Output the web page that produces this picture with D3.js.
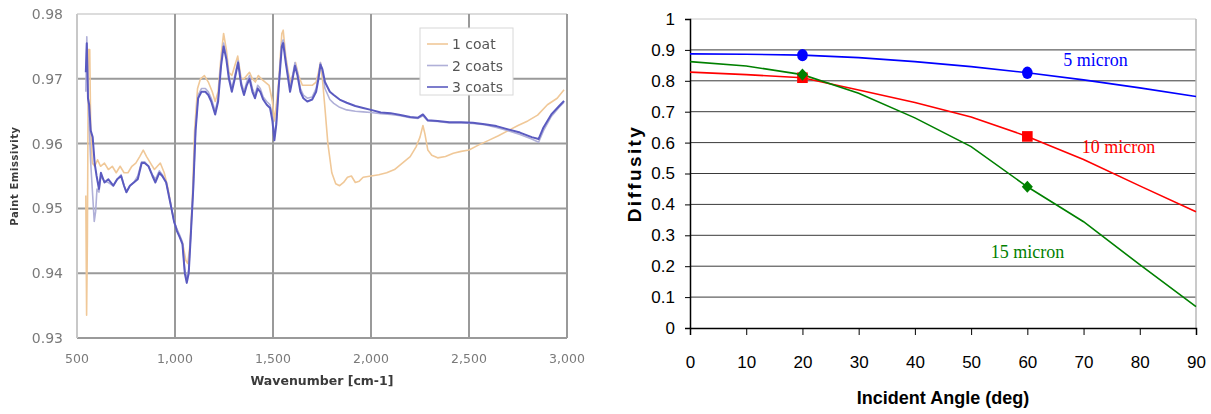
<!DOCTYPE html>
<html>
<head>
<meta charset="utf-8">
<script src="https://cdn.jsdelivr.net/npm/d3@7"></script>
<style>
  body { margin: 0; background: #fff; }
  svg { display: block; }
</style>
</head>
<body>
<svg id="chart"></svg>
<script>
// ---- left panel: paint emissivity spectra [wavenumber, emissivity]
const coat1 = [[545,0.952],[549,0.9335],[553,0.945],[558,0.9745],[565,0.9745],[570,0.962],[578,0.957],[590,0.9565],[605,0.9575],[620,0.9565],[640,0.957],[660,0.956],[680,0.9565],[700,0.9555],[720,0.9565],[740,0.9555],[760,0.9555],[780,0.9565],[800,0.957],[820,0.958],[838,0.959],[855,0.958],[875,0.957],[895,0.956],[910,0.9565],[925,0.957],[945,0.9555],[965,0.953],[985,0.9495],[1000,0.9475],[1020,0.946],[1040,0.9445],[1055,0.942],[1065,0.9415],[1075,0.944],[1088,0.951],[1100,0.962],[1115,0.9685],[1130,0.970],[1150,0.9705],[1170,0.9695],[1190,0.968],[1205,0.9665],[1220,0.968],[1235,0.9735],[1248,0.977],[1262,0.9745],[1275,0.971],[1290,0.9705],[1305,0.972],[1320,0.9735],[1338,0.970],[1352,0.970],[1366,0.9705],[1380,0.971],[1395,0.970],[1410,0.9695],[1425,0.9705],[1440,0.970],[1460,0.9695],[1480,0.969],[1497,0.9665],[1507,0.9635],[1517,0.966],[1530,0.970],[1545,0.977],[1552,0.9775],[1565,0.9735],[1578,0.971],[1590,0.9695],[1605,0.971],[1615,0.9725],[1630,0.9705],[1650,0.969],[1670,0.969],[1700,0.969],[1720,0.9695],[1732,0.971],[1742,0.9725],[1752,0.970],[1765,0.9655],[1780,0.960],[1800,0.9555],[1820,0.9538],[1840,0.9535],[1860,0.954],[1880,0.9548],[1900,0.955],[1920,0.954],[1940,0.9542],[1960,0.9548],[2000,0.955],[2040,0.9552],[2080,0.9555],[2120,0.956],[2160,0.957],[2200,0.958],[2230,0.9595],[2250,0.961],[2265,0.9628],[2275,0.9615],[2290,0.959],[2310,0.9582],[2340,0.9578],[2380,0.958],[2420,0.9585],[2460,0.9588],[2500,0.959],[2550,0.9598],[2600,0.9605],[2650,0.9612],[2700,0.962],[2750,0.9628],[2800,0.9635],[2850,0.9644],[2900,0.966],[2950,0.967],[2985,0.9683]];

const coat2 = [[545,0.968],[550,0.9765],[556,0.968],[562,0.963],[570,0.957],[580,0.952],[588,0.948],[595,0.9495],[602,0.953],[612,0.9525],[622,0.955],[640,0.9542],[660,0.954],[685,0.9535],[705,0.9545],[725,0.9552],[740,0.9535],[752,0.9525],[770,0.9535],[790,0.954],[810,0.955],[830,0.9572],[845,0.9572],[865,0.9565],[885,0.9552],[900,0.9545],[920,0.9558],[935,0.9552],[955,0.954],[975,0.9512],[995,0.948],[1010,0.9468],[1025,0.9458],[1038,0.9448],[1050,0.9405],[1060,0.9392],[1070,0.9405],[1080,0.9458],[1093,0.953],[1105,0.9625],[1118,0.9675],[1135,0.9685],[1155,0.9685],[1170,0.968],[1185,0.967],[1205,0.965],[1220,0.967],[1235,0.9725],[1248,0.9755],[1262,0.9735],[1275,0.9705],[1290,0.9685],[1305,0.9705],[1322,0.9728],[1338,0.9695],[1352,0.968],[1366,0.9695],[1380,0.9705],[1395,0.9685],[1408,0.9675],[1422,0.969],[1435,0.9685],[1450,0.9672],[1468,0.9665],[1485,0.966],[1497,0.964],[1507,0.961],[1517,0.9635],[1530,0.9695],[1545,0.9755],[1552,0.976],[1565,0.973],[1575,0.971],[1587,0.9685],[1600,0.9705],[1612,0.9725],[1625,0.971],[1640,0.9685],[1655,0.9675],[1675,0.967],[1700,0.9672],[1720,0.9685],[1732,0.9705],[1742,0.9725],[1752,0.9712],[1765,0.9685],[1790,0.9668],[1810,0.9662],[1840,0.9656],[1876,0.9652],[1920,0.965],[1960,0.9649],[2000,0.9648],[2050,0.9646],[2100,0.9645],[2150,0.9643],[2200,0.964],[2240,0.9639],[2265,0.9643],[2290,0.9635],[2340,0.9634],[2400,0.9632],[2460,0.9632],[2520,0.9631],[2580,0.9629],[2640,0.9625],[2700,0.962],[2760,0.9614],[2820,0.9607],[2855,0.9602],[2880,0.962],[2920,0.9642],[2960,0.9656],[2985,0.9664]];

const coat3 = [[545,0.971],[550,0.9755],[556,0.967],[562,0.966],[570,0.962],[580,0.961],[590,0.957],[600,0.955],[612,0.953],[622,0.9555],[640,0.954],[660,0.9545],[685,0.9535],[705,0.9545],[725,0.955],[740,0.9535],[752,0.9525],[770,0.9535],[790,0.954],[810,0.9545],[830,0.957],[845,0.957],[865,0.9565],[885,0.955],[900,0.954],[920,0.9555],[935,0.955],[955,0.954],[975,0.951],[995,0.948],[1010,0.9465],[1025,0.9455],[1038,0.9445],[1050,0.940],[1060,0.9385],[1070,0.940],[1080,0.9455],[1093,0.953],[1105,0.962],[1118,0.967],[1135,0.968],[1155,0.968],[1170,0.9675],[1185,0.9665],[1205,0.9645],[1220,0.9665],[1235,0.972],[1248,0.975],[1262,0.973],[1275,0.970],[1290,0.968],[1305,0.970],[1322,0.9725],[1338,0.969],[1352,0.9675],[1366,0.969],[1380,0.970],[1395,0.968],[1408,0.967],[1422,0.9685],[1435,0.968],[1450,0.9668],[1468,0.966],[1485,0.9655],[1497,0.9635],[1507,0.9605],[1517,0.963],[1530,0.969],[1545,0.975],[1552,0.9755],[1565,0.9725],[1575,0.9705],[1587,0.968],[1600,0.970],[1612,0.972],[1625,0.9705],[1640,0.968],[1655,0.967],[1675,0.9665],[1700,0.9668],[1720,0.968],[1732,0.970],[1742,0.9722],[1752,0.9715],[1765,0.9695],[1790,0.968],[1810,0.9675],[1840,0.9668],[1876,0.9663],[1920,0.9658],[1960,0.9655],[2000,0.9652],[2050,0.9648],[2100,0.9647],[2150,0.9644],[2200,0.9641],[2240,0.964],[2265,0.9645],[2290,0.9636],[2340,0.9635],[2400,0.9633],[2460,0.9633],[2520,0.9632],[2580,0.963],[2640,0.9627],[2700,0.9622],[2760,0.9617],[2820,0.961],[2855,0.9607],[2880,0.9625],[2920,0.9645],[2960,0.9658],[2985,0.9666]];

const leftSeries = ["1 coat", "2 coats", "3 coats"];
const leftXTicks = [500, 1000, 1500, 2000, 2500, 3000];
const leftYTicks = [0.93, 0.94, 0.95, 0.96, 0.97, 0.98];

// ---- right panel: diffusity vs incident angle
const angles = [0, 10, 20, 30, 40, 50, 60, 70, 80, 90];
const micron5 = [0.887, 0.886, 0.883, 0.875, 0.862, 0.846, 0.826, 0.803, 0.777, 0.749];
const micron10 = [0.828, 0.820, 0.810, 0.770, 0.730, 0.683, 0.620, 0.545, 0.460, 0.376];
const micron15 = [0.862, 0.848, 0.820, 0.760, 0.680, 0.587, 0.457, 0.344, 0.205, 0.069];
const markerAngles = [20, 60];
const rightSeries = ["5 micron", "10 micron", "15 micron"];
const rightXTicks = [0, 10, 20, 30, 40, 50, 60, 70, 80, 90];
const rightYTicks = [0, 0.1, 0.2, 0.3, 0.4, 0.5, 0.6, 0.7, 0.8, 0.9, 1];
// label anchor in data units: [angle, diffusity]
const labelPos = [[66.4, 0.848], [69.7, 0.566], [53.5, 0.228]];

const svg = d3.select("#chart").attr("width", 1211).attr("height", 414);

// blur to mimic the soft scanned look of the left figure
svg.append("defs").append("filter").attr("id", "soft")
    .append("feGaussianBlur").attr("stdDeviation", 0.7);

// ================= left chart =================
const L = svg.append("g").attr("filter", "url(#soft)");
const lx = d3.scaleLinear().domain([500, 3000]).range([77, 567]);
const ly = d3.scaleLinear().domain([0.93, 0.98]).range([338, 14]);

L.append("g").selectAll("line").data(leftYTicks).join("line")
    .attr("x1", lx(500)).attr("x2", lx(3000))
    .attr("y1", d => ly(d)).attr("y2", d => ly(d))
    .attr("stroke", d => d === 0.98 ? "#d0d0d0" : "#9a9a9a")
    .attr("stroke-width", d => d === 0.98 ? 1.5 : 2);

L.append("g").selectAll("line").data(leftXTicks).join("line")
    .attr("x1", d => lx(d)).attr("x2", d => lx(d))
    .attr("y1", ly(0.93)).attr("y2", ly(0.98))
    .attr("stroke", d => (d === 500) ? "#c8c8c8" : "#9a9a9a")
    .attr("stroke-width", 2);

L.append("g").selectAll("text").data(leftYTicks).join("text")
    .attr("x", 63).attr("y", d => ly(d) + 5)
    .attr("text-anchor", "end")
    .attr("font-family", "DejaVu Sans").attr("font-size", 14)
    .attr("fill", "#7a7a7a")
    .text(d => d.toFixed(2));

L.append("g").selectAll("text").data(leftXTicks).join("text")
    .attr("x", d => lx(d)).attr("y", 363)
    .attr("text-anchor", "middle")
    .attr("font-family", "DejaVu Sans").attr("font-size", 12.5)
    .attr("fill", "#7a7a7a")
    .text(d => d3.format(",")(d));

L.append("text")
    .attr("x", (lx(500) + lx(3000)) / 2).attr("y", 385)
    .attr("text-anchor", "middle")
    .attr("font-family", "DejaVu Sans").attr("font-weight", "bold").attr("font-size", 12.5)
    .attr("fill", "#3a3a3a")
    .text("Wavenumber [cm-1]");

L.append("text")
    .attr("transform", `translate(18,${(ly(0.93) + ly(0.98)) / 2}) rotate(-90)`)
    .attr("text-anchor", "middle")
    .attr("font-family", "DejaVu Sans").attr("font-weight", "bold").attr("font-size", 10)
    .attr("letter-spacing", 0.6)
    .attr("fill", "#3a3a3a")
    .text("Paint Emissivity");

const leftColors = ["#f0c898", "#b0b0d8", "#5a5ac0"];
const leftWidths = [1.6, 1.6, 2];
const lline = d3.line().x(d => lx(d[0])).y(d => ly(d[1]));
[coat1, coat2, coat3].forEach((s, i) => {
    L.append("path").datum(s)
        .attr("d", lline)
        .attr("fill", "none")
        .attr("stroke", leftColors[i])
        .attr("stroke-width", leftWidths[i])
        .attr("stroke-linejoin", "round");
});

// legend
const leg = L.append("g");
leg.append("rect")
    .attr("x", 420).attr("y", 28).attr("width", 93).attr("height", 67)
    .attr("fill", "#fff").attr("stroke", "#d8d8d8").attr("stroke-width", 1);
leftSeries.forEach((name, i) => {
    const yy = 44 + i * 21.5;
    leg.append("line")
        .attr("x1", 427).attr("x2", 448).attr("y1", yy).attr("y2", yy)
        .attr("stroke", leftColors[i]).attr("stroke-width", 1.6);
    leg.append("text")
        .attr("x", 452).attr("y", yy + 5)
        .attr("font-family", "DejaVu Sans").attr("font-size", 14)
        .attr("fill", "#555")
        .text(name);
});

// ================= right chart =================
const R = svg.append("g");
const rx = d3.scaleLinear().domain([0, 90]).range([690, 1196]);
const ry = d3.scaleLinear().domain([0, 1]).range([328, 19]);

R.append("g").selectAll("line").data(rightYTicks.filter(d => d > 0)).join("line")
    .attr("x1", rx(0)).attr("x2", rx(90))
    .attr("y1", d => ry(d)).attr("y2", d => ry(d))
    .attr("stroke", d => d === 1 ? "#c8c8c8" : "#3a3a3a")
    .attr("stroke-width", 1);

R.append("line")
    .attr("x1", rx(90)).attr("x2", rx(90)).attr("y1", ry(0)).attr("y2", ry(1))
    .attr("stroke", "#b8b8b8").attr("stroke-width", 1.5);

const xAxis = d3.axisBottom(rx).tickValues(rightXTicks).tickSize(7).tickPadding(21);
R.append("g").attr("transform", `translate(0,${ry(0)})`).call(xAxis)
    .call(g => g.select(".domain").attr("stroke", "#000").attr("stroke-width", 1.5))
    .call(g => g.selectAll(".tick line").attr("stroke", "#000"))
    .call(g => g.selectAll("text")
        .attr("font-family", "Liberation Sans").attr("font-size", 17).attr("fill", "#000"));

const yAxis = d3.axisLeft(ry).tickValues(rightYTicks).tickSize(5).tickPadding(10)
    .tickFormat(d => d === 0 || d === 1 ? d : d.toFixed(1));
R.append("g").attr("transform", `translate(${rx(0)},0)`).call(yAxis)
    .call(g => g.select(".domain").attr("stroke", "#000").attr("stroke-width", 1.5))
    .call(g => g.selectAll(".tick line").attr("stroke", "#000"))
    .call(g => g.selectAll("text")
        .attr("font-family", "Liberation Sans").attr("font-size", 17).attr("fill", "#000"));

R.append("text")
    .attr("x", (rx(0) + rx(90)) / 2).attr("y", 404)
    .attr("text-anchor", "middle")
    .attr("font-family", "Liberation Sans").attr("font-weight", "bold").attr("font-size", 18)
    .text("Incident Angle (deg)");

R.append("text")
    .attr("transform", `translate(641,${(ry(0) + ry(1)) / 2}) rotate(-90)`)
    .attr("text-anchor", "middle")
    .attr("font-family", "Liberation Sans").attr("font-weight", "bold").attr("font-size", 19)
    .attr("letter-spacing", 2.4)
    .text("Diffusity");

const rightColors = ["#0000ff", "#ff0000", "#008000"];
const rline = d3.line().x((d, i) => rx(angles[i])).y(d => ry(d));
const rData = [micron5, micron10, micron15];
rData.forEach((s, i) => {
    R.append("path").datum(s)
        .attr("d", rline)
        .attr("fill", "none")
        .attr("stroke", rightColors[i])
        .attr("stroke-width", 1.6);
});

// markers at 20 and 60 degrees
const mk = R.append("g");
markerAngles.forEach(a => {
    const k = angles.indexOf(a);
    mk.append("ellipse")
        .attr("cx", rx(a)).attr("cy", ry(micron5[k]))
        .attr("rx", 5.3).attr("ry", 6.2)
        .attr("fill", rightColors[0]);
    mk.append("rect")
        .attr("x", rx(a) - 5.3).attr("y", ry(micron10[k]) - 5.3)
        .attr("width", 10.6).attr("height", 10.6)
        .attr("fill", rightColors[1]);
    mk.append("rect")
        .attr("x", -3.9).attr("y", -3.9).attr("width", 7.8).attr("height", 7.8)
        .attr("transform", `translate(${rx(a)},${ry(micron15[k])}) scale(1,1.1) rotate(45)`)
        .attr("fill", rightColors[2]);
});

R.append("g").selectAll("text").data(rightSeries).join("text")
    .attr("x", (d, i) => rx(labelPos[i][0]))
    .attr("y", (d, i) => ry(labelPos[i][1]))
    .attr("font-family", "Liberation Serif").attr("font-size", 18)
    .attr("fill", (d, i) => rightColors[i])
    .text(d => d);
</script>
</body>
</html>
